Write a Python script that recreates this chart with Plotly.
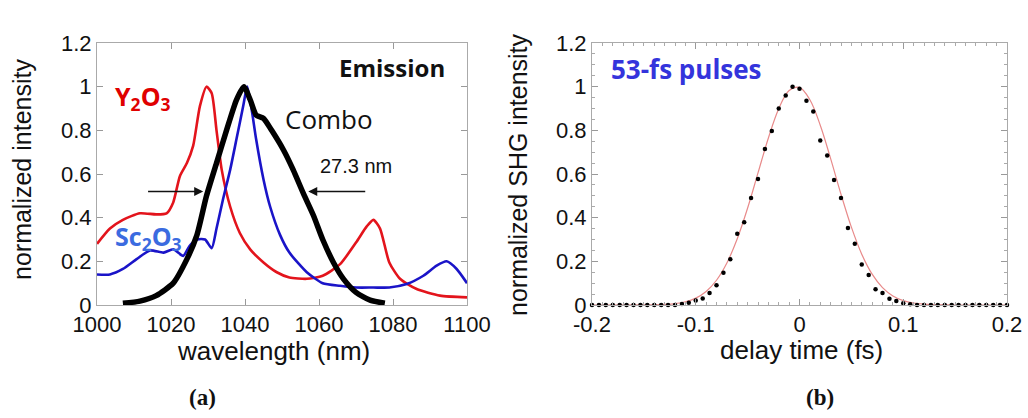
import plotly.graph_objects as go

# ---------------- Panel (a): emission spectra ----------------
y2o3_wl = [1000, 1003.5, 1007, 1011.6, 1016, 1018.8, 1020.6, 1022.4, 1024.3, 1026, 1027.8, 1029.6,
           1031, 1032.3, 1033.7, 1036, 1038.6, 1041.4, 1045, 1048.6, 1052, 1056.7, 1061, 1065.7,
           1070, 1072.9, 1074.7, 1076.5, 1079, 1081.9, 1086.4, 1092.7, 1100]
y2o3_int = [0.28, 0.35, 0.39, 0.42, 0.415, 0.42, 0.47, 0.59, 0.65, 0.73, 0.91, 1.0,
            0.97, 0.80, 0.62, 0.45, 0.33, 0.255, 0.195, 0.15, 0.126, 0.12, 0.134, 0.187,
            0.286, 0.36, 0.39, 0.35, 0.195, 0.12, 0.073, 0.043, 0.035]

sc2o3_wl = [1000, 1003.5, 1007, 1010.7, 1014.3, 1018, 1020.6, 1023.3, 1025, 1027, 1029.2, 1031,
            1032.3, 1034, 1036, 1037.7, 1039.5, 1040.6, 1041.8, 1043, 1045, 1046.8, 1049.5, 1052,
            1056.7, 1061, 1065.7, 1070, 1074.7, 1079, 1083.7, 1088.2, 1091.8, 1094.5, 1097.2, 1100]
sc2o3_int = [0.14, 0.14, 0.165, 0.21, 0.25, 0.24, 0.255, 0.225, 0.27, 0.30, 0.30, 0.26,
             0.35, 0.48, 0.62, 0.76, 0.91, 1.0, 0.895, 0.76, 0.575, 0.45, 0.32, 0.24,
             0.15, 0.10, 0.088, 0.08, 0.08, 0.08, 0.096, 0.134, 0.18, 0.20, 0.165, 0.10]

combo_wl = [1007, 1011.6, 1016, 1020.6, 1024.3, 1027, 1029.6, 1032.3, 1035, 1037.7, 1039.7, 1041.4,
            1043, 1045, 1047.2, 1050.4, 1053, 1055.8, 1058.5, 1061, 1063.9, 1066.6, 1070, 1073.8, 1077.8]
combo_int = [0.008, 0.018, 0.043, 0.10, 0.21, 0.32, 0.50, 0.65, 0.80, 0.94, 1.0, 0.94,
             0.87, 0.855, 0.80, 0.71, 0.62, 0.51, 0.41, 0.30, 0.195, 0.12, 0.058, 0.022, 0.008]

wl_ticks = [1000, 1020, 1040, 1060, 1080, 1100]
int_ticks = [0, 0.2, 0.4, 0.6, 0.8, 1.0, 1.2]
int_tick_text = ["0", "0.2", "0.4", "0.6", "0.8", "1", "1.2"]

fwhm_left = [1013.4, 1028.7]   # arrow tail, head
fwhm_right = [1072.9, 1057.1]
fwhm_level = 0.52

# ---------------- Panel (b): autocorrelation ----------------
delay = [-0.2, -0.1933, -0.1867, -0.18, -0.1733, -0.1667, -0.16, -0.1533, -0.1467, -0.14, -0.1333,
         -0.1267, -0.12, -0.1133, -0.1067, -0.1, -0.0933, -0.0867, -0.08, -0.0733, -0.0667, -0.06,
         -0.0533, -0.0467, -0.04, -0.0333, -0.0267, -0.02, -0.0133, -0.0067, 0.0, 0.0067, 0.0133,
         0.02, 0.0267, 0.0333, 0.04, 0.0467, 0.0533, 0.06, 0.0667, 0.0733, 0.08, 0.0867, 0.0933,
         0.1, 0.1067, 0.1133, 0.12, 0.1267, 0.1333, 0.14, 0.1467, 0.1533, 0.16, 0.1667, 0.1733,
         0.18, 0.1867, 0.1933, 0.2]
shg = [0, 0, 0, 0, 0, 0, 0, 0, 0, 0, 0,
       0, 0, 0.005, 0.01, 0.021, 0.03, 0.055, 0.09, 0.148, 0.209, 0.326,
       0.379, 0.49, 0.577, 0.715, 0.797, 0.9, 0.959, 1.0, 0.99, 0.936, 0.886,
       0.753, 0.685, 0.572, 0.49, 0.353, 0.28, 0.186, 0.137, 0.072, 0.055, 0.029, 0.018,
       0.008, 0.003, 0, 0, 0, 0, 0, 0, 0, 0, 0, 0,
       0, 0, 0, 0]

fit_t = [-0.2, -0.15, -0.14, -0.13, -0.12, -0.11, -0.1, -0.09, -0.08, -0.07, -0.06, -0.05, -0.04,
         -0.03, -0.02, -0.01, 0.0, 0.01, 0.02, 0.03, 0.04, 0.05, 0.06, 0.07, 0.08, 0.09, 0.1,
         0.11, 0.12, 0.13, 0.14, 0.15, 0.2]
fit_v = [0, 0.0004, 0.001, 0.0027, 0.0065, 0.0149, 0.0316, 0.0621, 0.1134, 0.1924, 0.3033, 0.4443,
         0.6049, 0.7651, 0.8993, 0.9822, 0.9967, 0.9398, 0.8235, 0.6704, 0.5071, 0.3565, 0.2328,
         0.1413, 0.0797, 0.0417, 0.0203, 0.0092, 0.0039, 0.0015, 0.0005, 0.0001, 0]

t_ticks = [-0.2, -0.1, 0, 0.1, 0.2]
t_tick_text = ["-0.2", "-0.1", "0", "0.1", "0.2"]

RED = "#e3141c"
BLUE = "#1a14c8"
SANS = "Liberation Sans, Arial, sans-serif"
TICKFONT = dict(family=SANS, size=22, color="#111")
LABELFONT = "Open Sans, Lato, sans-serif"
W, H = 1028, 418


def px(xp, yp):
    """convert figure pixel position to paper fraction (margins are zero)"""
    return xp / W, (H - yp) / H


fig = go.Figure()
fig.add_trace(go.Scatter(x=y2o3_wl, y=y2o3_int, mode="lines", line=dict(color=RED, width=2.6, shape="spline", smoothing=0.6),
                         xaxis="x", yaxis="y", name="Y2O3"))
fig.add_trace(go.Scatter(x=sc2o3_wl, y=sc2o3_int, mode="lines", line=dict(color=BLUE, width=2.6, shape="spline", smoothing=0.6),
                         xaxis="x", yaxis="y", name="Sc2O3"))
fig.add_trace(go.Scatter(x=combo_wl, y=combo_int, mode="lines", line=dict(color="#000", width=5.5, shape="spline", smoothing=0.6),
                         xaxis="x", yaxis="y", name="Combo", cliponaxis=False))

fig.add_trace(go.Scatter(x=fit_t, y=fit_v, mode="lines", line=dict(color="#e88a8a", width=1.2, shape="spline"),
                         xaxis="x2", yaxis="y2", name="fit"))
fig.add_trace(go.Scatter(x=delay, y=shg, mode="markers", marker=dict(color="#000", size=4.5),
                         xaxis="x2", yaxis="y2", name="data", cliponaxis=False))

axis_common = dict(ticks="inside", ticklen=6, tickcolor="#999", showline=True, linecolor="#aaa",
                   linewidth=1, mirror="ticks", showgrid=False, zeroline=False, tickfont=TICKFONT,
                   automargin=False)

yd = [(H - 305) / H, (H - 43) / H]
fig.update_layout(
    width=W, height=H,
    margin=dict(l=0, r=0, t=0, b=0, pad=0),
    paper_bgcolor="white", plot_bgcolor="white",
    showlegend=False, hovermode=False,
    xaxis=dict(domain=[97 / W, 467 / W], anchor="y", range=[1000, 1100], tickvals=wl_ticks, **axis_common),
    yaxis=dict(domain=yd, anchor="x", range=[0, 1.2], tickvals=int_ticks, ticktext=int_tick_text, **axis_common),
    xaxis2=dict(domain=[592 / W, 1007 / W], anchor="y2", range=[-0.2, 0.2], tickvals=t_ticks, ticktext=t_tick_text,
                minor=dict(dtick=0.01, ticks="inside", ticklen=3, tickcolor="#aaa"), **axis_common),
    yaxis2=dict(domain=yd, anchor="x2", range=[0, 1.2], tickvals=int_ticks, ticktext=int_tick_text,
                minor=dict(dtick=0.05, ticks="inside", ticklen=3, tickcolor="#aaa"), **axis_common),
)

ann = []
# axis titles
for text, (xp, yp), ang, size in (("normalized intensity", (22, 170), -90, 25),
                                  ("normalized SHG intensity", (518, 175), -90, 25),
                                  ("wavelength (nm)", (273, 351), 0, 26),
                                  ("delay time (fs)", (801, 350), 0, 26)):
    xf, yf = px(xp, yp)
    ann.append(dict(text=text, xref="paper", yref="paper", x=xf, y=yf, textangle=ang, showarrow=False,
                    font=dict(family=SANS, size=size, color="#111"), xanchor="center", yanchor="middle"))
# panel (a) labels
ann.append(dict(text="<b>Emission</b>", xref="x", yref="y", x=1094.6, y=1.087, xanchor="right", yanchor="middle",
                showarrow=False, font=dict(family=LABELFONT, size=24, color="#111")))
ann.append(dict(text="<b>Y<sub>2</sub>O<sub>3</sub></b>", xref="x", yref="y", x=1004.3, y=0.95, xanchor="left",
                yanchor="middle", showarrow=False, font=dict(family=LABELFONT, size=25, color="#e00000")))
ann.append(dict(text="<b>Sc<sub>2</sub>O<sub>3</sub></b>", xref="x", yref="y", x=1004.3, y=0.31, xanchor="left",
                yanchor="middle", showarrow=False, font=dict(family=LABELFONT, size=25, color="#3b6be0")))
ann.append(dict(text="Combo", xref="x", yref="y", x=1062.7, y=0.85, xanchor="center", yanchor="middle",
                showarrow=False, font=dict(family=LABELFONT, size=26, color="#111")))
ann.append(dict(text="27.3 nm", xref="x", yref="y", x=1070, y=0.635, xanchor="center", yanchor="middle",
                showarrow=False, font=dict(family=SANS, size=20, color="#111")))
# FWHM arrows
for tail, head in (fwhm_left, fwhm_right):
    ann.append(dict(text="", xref="x", yref="y", axref="x", ayref="y", x=head, y=fwhm_level, ax=tail, ay=fwhm_level,
                    showarrow=True, arrowhead=2, arrowsize=1.2, arrowwidth=1.5, arrowcolor="#111"))
# panel (b) label
ann.append(dict(text="<b>53-fs pulses</b>", xref="x2", yref="y2", x=-0.1836, y=1.082, xanchor="left",
                yanchor="middle", showarrow=False, font=dict(family=LABELFONT, size=26, color="#3434dc")))
# subplot letters
for text, (xp, yp) in (("<b>(a)</b>", (202, 397)), ("<b>(b)</b>", (820, 397))):
    xf, yf = px(xp, yp)
    ann.append(dict(text=text, xref="paper", yref="paper", x=xf, y=yf, xanchor="center", yanchor="middle",
                    showarrow=False, font=dict(family="Liberation Serif, Times New Roman, serif", size=23, color="#111")))
fig.update_layout(annotations=ann)

# remove the default page margin so the figure sits at the window's top-left corner
fig.write_html("out.html", config={"displayModeBar": False},
               post_script="document.body.style.margin='0';document.body.style.overflow='hidden';")
